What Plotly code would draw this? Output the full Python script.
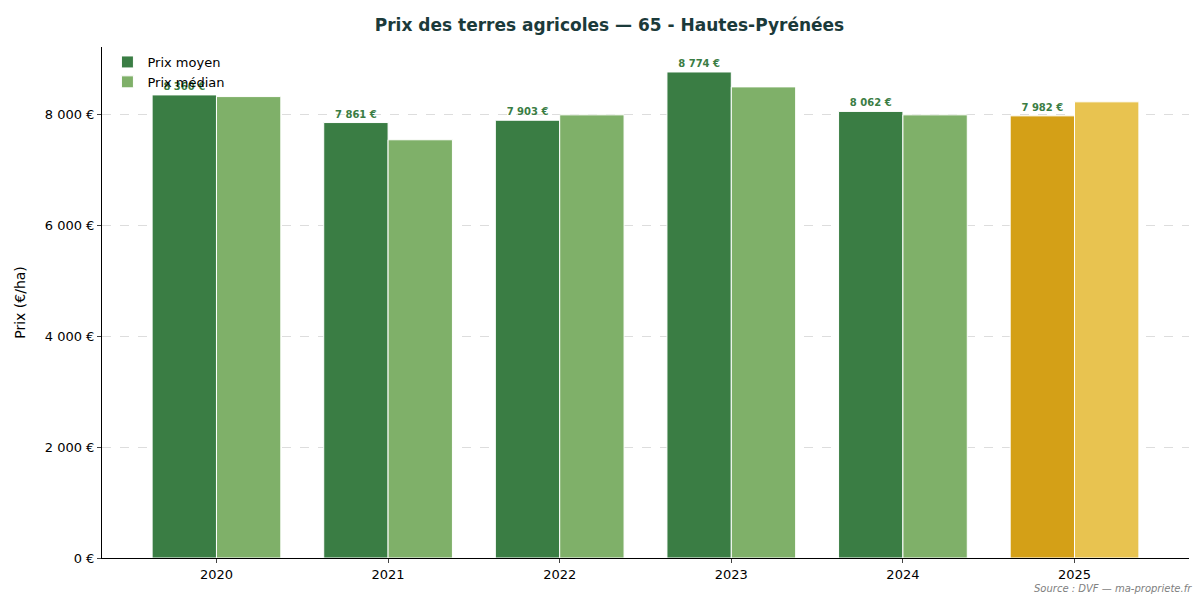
import plotly.graph_objects as go

years = ["2020", "2021", "2022", "2023", "2024", "2025"]
prix_moyen = [8360, 7861, 7903, 8774, 8062, 7982]
prix_median = [8330, 7550, 8000, 8505, 8000, 8235]

def fmt(v):
    return f"{v:,}".replace(",", " ") + " €"

c_moy = ["#3A7D44"] * 5 + ["#D4A017"]
c_med = ["#7FB069"] * 5 + ["#E8C350"]

fig = go.Figure()
fig.add_bar(x=years, y=prix_moyen, name="Prix moyen", marker=dict(color=c_moy, line=dict(color="white", width=1)),
            text=[fmt(v) for v in prix_moyen], textposition="outside",
            textfont=dict(size=10, color="#3A7D44", family="DejaVu Sans"), texttemplate="<b>%{text}</b>", cliponaxis=False)
fig.add_bar(x=years, y=prix_median, name="Prix médian", marker=dict(color=c_med, line=dict(color="white", width=1)))

fig.update_layout(
    width=1203, height=606, barmode="group", bargap=0.25, bargroupgap=0,
    plot_bgcolor="white", paper_bgcolor="white",
    font=dict(family="DejaVu Sans", size=13, color="black"),
    title=dict(text="<b>Prix des terres agricoles — 65 - Hautes-Pyrénées</b>", x=0.5, y=0.982, xanchor="center",
               yanchor="top", font=dict(size=17, color="#1B3A3A")),
    margin=dict(l=88, r=22, t=39, b=56),
    legend=dict(x=0.005, y=1, xanchor="left", yanchor="top", bgcolor="rgba(255,255,255,0)", font=dict(size=13)),
    xaxis=dict(type="category", range=[-0.667, 5.667], showline=True, linecolor="black", ticks="outside", ticklen=4),
    yaxis=dict(range=[0, 9225], tickvals=[0, 2000, 4000, 6000, 8000],
               ticktext=["0 €", "2 000 €", "4 000 €", "6 000 €", "8 000 €"],
               showline=True, linecolor="black", ticks="outside", ticklen=4,
               gridcolor="#dddddd", griddash="dash", title=dict(text="Prix (€/ha)", font=dict(size=14))),
)
fig.add_annotation(text="<i>Source : DVF — ma-propriete.fr</i>", xref="paper", yref="paper", x=1.005, y=-0.045,
                   xanchor="right", yanchor="top", showarrow=False, font=dict(size=10, color="gray"))
fig.write_html("out.html")
